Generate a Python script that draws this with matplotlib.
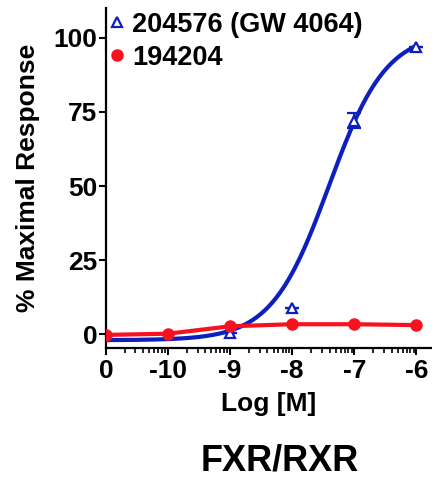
import numpy as np
import matplotlib
matplotlib.use("Agg")
import matplotlib.pyplot as plt
from matplotlib.lines import Line2D

plt.rcParams["font.family"] = ["Liberation Sans", "DejaVu Sans"]
plt.rcParams["font.weight"] = "bold"

BLUE = "#0d1fbf"
RED = "#f7121f"

# x = log[M]; the "0" control sits at -11
tick_pos = [-11, -10, -9, -8, -7, -6]
tick_lab = ["0", "-10", "-9", "-8", "-7", "-6"]

gw_x = [-9, -8, -7, -6]
gw_y = [0.3, 9.0, 72.0, 97.0]
gw_err = [0.0, 0.0, 2.5, 0.0]
# 4PL fit for 204576
gw_bottom, gw_top, gw_logec50, gw_hill = -2.0, 102.0, -7.41, 0.94

cmp_x = [-11, -10, -9, -8, -7, -6]
cmp_y = [-0.2, 0.2, 2.7, 3.4, 3.4, 3.1]


def four_pl(x, bottom, top, logec50, hill):
    return bottom + (top - bottom) / (1 + 10 ** ((logec50 - x) * hill))


fig = plt.figure(figsize=(4.32, 4.79), dpi=100)
ax = fig.add_axes([0.245, 0.273, 0.755, 0.71])

xx = np.linspace(-11, -6, 300)
ax.plot(xx, four_pl(xx, gw_bottom, gw_top, gw_logec50, gw_hill), color=BLUE, lw=3, zorder=2)
ax.errorbar(gw_x, gw_y, yerr=gw_err, fmt="^", ms=7, mfc="white", mec=BLUE, mew=1.6,
            ecolor=BLUE, elinewidth=1.5, capsize=5, capthick=1.5, zorder=3)
ax.plot(cmp_x, cmp_y, "o-", color=RED, lw=3, ms=8, zorder=4)

ax.set_xlim(-11, -5.75)
ax.set_ylim(-4.7, 110)
ax.set_xticks(tick_pos)
ax.set_xticklabels(tick_lab)
minor = [d + np.log10(k) for d in range(-11, -6) for k in range(2, 10)]
ax.set_xticks(minor, minor=True)
ax.set_yticks([0, 25, 50, 75, 100])
ax.tick_params(axis="both", labelsize=19, width=1.5, length=5, pad=1)
ax.tick_params(axis="x", which="minor", width=1.2, length=3.5)
ax.tick_params(axis="x", pad=3)
for lab in ax.get_xticklabels() + ax.get_yticklabels():
    lab.set_fontweight("bold")

for s in ("top", "right"):
    ax.spines[s].set_visible(False)
for s in ("left", "bottom"):
    ax.spines[s].set_linewidth(1.6)

ax.set_ylabel("% Maximal Response", fontsize=19, fontweight="bold", labelpad=10)
ax.set_xlabel("Log [M]", fontsize=19, fontweight="bold", labelpad=6)

handles = [
    Line2D([], [], marker="^", ls="none", ms=7, mfc="white", mec=BLUE, mew=1.6),
    Line2D([], [], marker="o", ls="none", ms=8, color=RED),
]
ax.legend(handles, ["204576 (GW 4064)", "194204"], loc="upper left",
          bbox_to_anchor=(-0.045, 1.045), frameon=False, handlelength=0.5,
          handletextpad=0.3, labelspacing=0.25, borderaxespad=0.3,
          prop={"weight": "bold", "size": 19.5})

fig.text(0.648, 0.001, "FXR/RXR", ha="center", va="bottom", fontsize=26, fontweight="bold")

fig.savefig("out.png", dpi=100)
